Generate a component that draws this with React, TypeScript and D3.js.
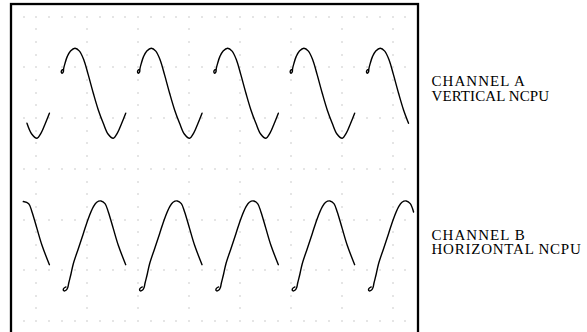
import * as d3 from "d3"

const W = 587
const H = 332

// graticule size in divisions
const xDivs = 8
const yDivs = 6

// channel A sweeps: [time (div), level (div)]
const chanA0 = [[0.314,3.899],[0.407,3.688],[0.511,3.604],[0.593,3.708],[0.676,3.899],[0.755,4.097]]
const chanA1 = [[1.032,4.961],[1.002,4.951],[0.987,4.911],[1.002,4.886],[1.028,4.911],[1.034,4.970],[1.061,5.079],[1.107,5.217],[1.170,5.325],[1.258,5.379],[1.346,5.321],[1.435,5.138],[1.519,4.852],[1.618,4.491],[1.716,4.162],[1.814,3.899],[1.907,3.688],[2.011,3.604],[2.093,3.708],[2.176,3.899],[2.255,4.097]]
const chanA2 = [[2.532,4.961],[2.502,4.951],[2.487,4.911],[2.502,4.886],[2.528,4.911],[2.534,4.970],[2.561,5.079],[2.607,5.217],[2.670,5.325],[2.758,5.379],[2.846,5.321],[2.935,5.138],[3.019,4.852],[3.118,4.491],[3.216,4.162],[3.314,3.899],[3.407,3.688],[3.511,3.604],[3.593,3.708],[3.676,3.899],[3.755,4.097]]
const chanA3 = [[4.032,4.961],[4.002,4.951],[3.987,4.911],[4.002,4.886],[4.028,4.911],[4.034,4.970],[4.061,5.079],[4.107,5.217],[4.170,5.325],[4.258,5.379],[4.346,5.321],[4.435,5.138],[4.519,4.852],[4.618,4.491],[4.716,4.162],[4.814,3.899],[4.907,3.688],[5.011,3.604],[5.093,3.708],[5.176,3.899],[5.255,4.097]]
const chanA4 = [[5.532,4.961],[5.502,4.951],[5.487,4.911],[5.502,4.886],[5.528,4.911],[5.534,4.970],[5.561,5.079],[5.607,5.217],[5.670,5.325],[5.758,5.379],[5.846,5.321],[5.935,5.138],[6.019,4.852],[6.118,4.491],[6.216,4.162],[6.314,3.899],[6.407,3.688],[6.511,3.604],[6.593,3.708],[6.676,3.899],[6.755,4.097]]
const chanA5 = [[7.032,4.961],[7.002,4.951],[6.987,4.911],[7.002,4.886],[7.028,4.911],[7.034,4.970],[7.061,5.079],[7.107,5.217],[7.170,5.325],[7.258,5.379],[7.346,5.321],[7.435,5.138],[7.519,4.852],[7.618,4.491],[7.716,4.162],[7.814,3.899]]

// channel B sweeps
const chanB0 = [[0.242,2.355],[0.348,2.314],[0.413,2.150],[0.511,1.821],[0.609,1.493],[0.755,1.110]]
const chanB1 = [[1.081,0.671],[1.032,0.635],[1.038,0.596],[1.087,0.611],[1.116,0.661],[1.134,0.744],[1.179,0.927],[1.225,1.130],[1.323,1.426],[1.421,1.722],[1.519,2.018],[1.618,2.249],[1.685,2.341],[1.769,2.367],[1.848,2.314],[1.913,2.150],[2.011,1.821],[2.109,1.493],[2.255,1.110]]
const chanB2 = [[2.581,0.671],[2.532,0.635],[2.538,0.596],[2.587,0.611],[2.616,0.661],[2.634,0.744],[2.679,0.927],[2.725,1.130],[2.823,1.426],[2.921,1.722],[3.019,2.018],[3.118,2.249],[3.185,2.341],[3.269,2.367],[3.348,2.314],[3.413,2.150],[3.511,1.821],[3.609,1.493],[3.755,1.110]]
const chanB3 = [[4.081,0.671],[4.032,0.635],[4.038,0.596],[4.087,0.611],[4.116,0.661],[4.134,0.744],[4.179,0.927],[4.225,1.130],[4.323,1.426],[4.421,1.722],[4.519,2.018],[4.618,2.249],[4.685,2.341],[4.769,2.367],[4.848,2.314],[4.913,2.150],[5.011,1.821],[5.109,1.493],[5.255,1.110]]
const chanB4 = [[5.581,0.671],[5.532,0.635],[5.538,0.596],[5.587,0.611],[5.616,0.661],[5.634,0.744],[5.679,0.927],[5.725,1.130],[5.823,1.426],[5.921,1.722],[6.019,2.018],[6.118,2.249],[6.185,2.341],[6.269,2.367],[6.348,2.314],[6.413,2.150],[6.511,1.821],[6.609,1.493],[6.755,1.110]]
const chanB5 = [[7.081,0.671],[7.032,0.635],[7.038,0.596],[7.087,0.611],[7.116,0.661],[7.134,0.744],[7.179,0.927],[7.225,1.130],[7.323,1.426],[7.421,1.722],[7.519,2.018],[7.618,2.249],[7.685,2.341],[7.769,2.367],[7.848,2.314],[7.913,2.150]]

const sweeps = [chanA0, chanA1, chanA2, chanA3, chanA4, chanA5, chanB0, chanB1, chanB2, chanB3, chanB4, chanB5]

// labels on the right
const labelA = ["CHANNEL A", "VERTICAL NCPU"]
const labelB = ["CHANNEL B", "HORIZONTAL NCPU"]
const labelLevels = [4.63, 1.6]

export default function App() {
  const x = d3.scaleLinear().domain([0, xDivs]).range([11, 418])
  const y = d3.scaleLinear().domain([0, yDivs]).range([321, 16.7])

  const line = d3.line<number[]>()
    .x(d => x(d[0]))
    .y(d => y(d[1]))
    .curve(d3.curveCatmullRom.alpha(0.5))

  // dotted graticule: rows every div, columns at half divs
  const dots: [number, number][] = []
  d3.range(0, yDivs + 0.01, 1).forEach(v => {
    d3.range(0.25, xDivs - 0.2, 0.25).forEach(t => dots.push([t, v]))
  })
  d3.range(0.5, xDivs, 1).forEach(t => {
    d3.range(0, yDivs, 0.25).forEach(v => { if (v % 1 !== 0) dots.push([t, v]) })
  })

  const widths: Record<string, number> = {
    "CHANNEL A": 93.3, "VERTICAL NCPU": 117.5, "CHANNEL B": 93.3, "HORIZONTAL NCPU": 149.3
  }

  return (
    <svg width={W} height={H} style={{ position: "absolute", left: 0, top: 0, background: "#fff" }}>
      <g fill="#999">
        {dots.map((d, i) => (
          <rect key={i} x={Math.round(x(d[0])) - 0.5} y={Math.round(y(d[1])) - 0.5} width={1} height={1} />
        ))}
      </g>
      <rect x={x(0)} y={y(6.25)} width={x(xDivs) - x(0)} height={340 - y(6.25)}
        fill="none" stroke="#000" strokeWidth={2.3} />
      <g fill="none" stroke="#000" strokeWidth={1.4} strokeLinejoin="round" strokeLinecap="round">
        {sweeps.map((s, i) => <path key={i} d={line(s) || ""} />)}
      </g>
      <g fontFamily="'Liberation Serif', 'Times New Roman', serif" fontSize={15} fill="#000">
        {[labelA, labelB].map((lab, j) => lab.map((txt, k) => (
          <text key={j + "-" + k} x={431.5} y={y(labelLevels[j]) + k * 14.5}
            textLength={widths[txt]} lengthAdjust="spacing">{txt}</text>
        )))}
      </g>
    </svg>
  )
}
